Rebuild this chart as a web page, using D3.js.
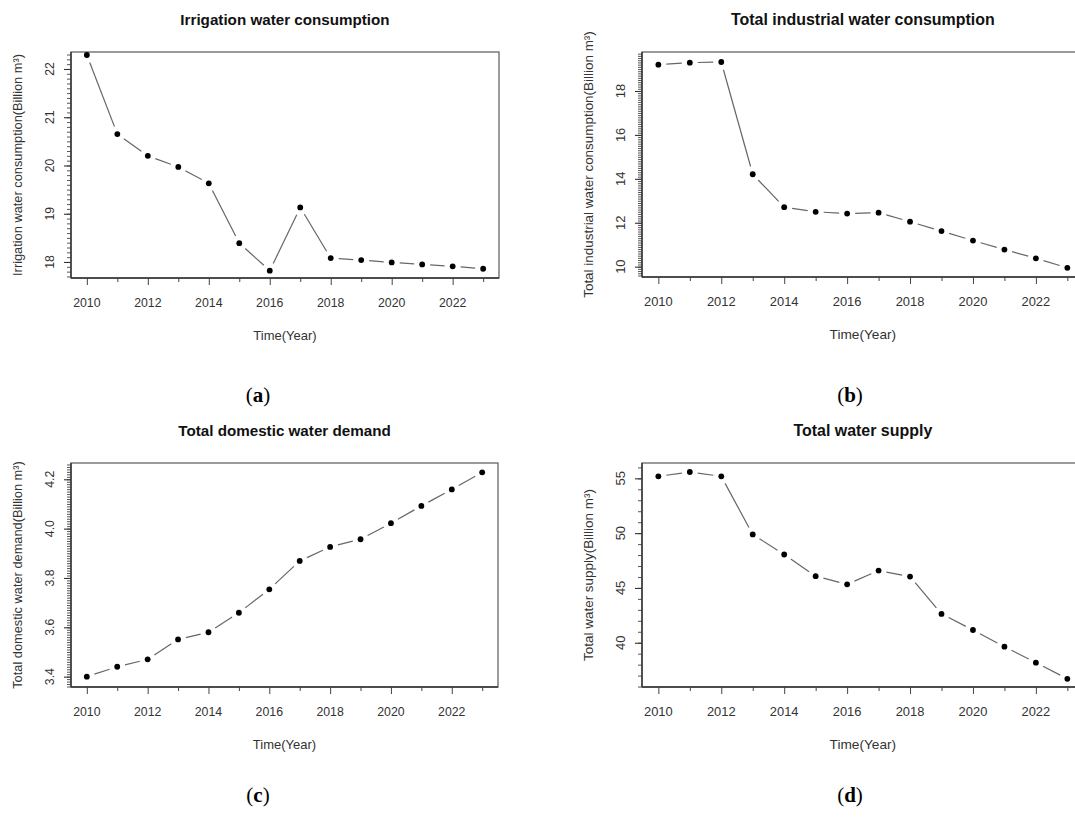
<!DOCTYPE html>
<html>
<head>
<meta charset="utf-8">
<script src="https://cdn.jsdelivr.net/npm/d3@7"></script>
<style>
  html, body { margin: 0; padding: 0; background: #fff; }
  svg { display: block; }
</style>
</head>
<body>
<svg id="chart" width="1075" height="817"></svg>
<script>
// ---------------- DATA ----------------
const years = [2010, 2011, 2012, 2013, 2014, 2015, 2016, 2017, 2018, 2019, 2020, 2021, 2022, 2023];
const xTickLabels = [2010, 2012, 2014, 2016, 2018, 2020, 2022];

const irrigation = [22.29, 20.65, 20.20, 19.97, 19.63, 18.39, 17.82, 19.13, 18.08, 18.04, 17.99, 17.95, 17.91, 17.86];
const industrial = [19.20, 19.29, 19.32, 14.21, 12.71, 12.50, 12.42, 12.46, 12.05, 11.62, 11.19, 10.78, 10.38, 9.95];
const domestic   = [3.400, 3.440, 3.470, 3.551, 3.580, 3.659, 3.754, 3.869, 3.926, 3.957, 4.022, 4.092, 4.159, 4.228];
const supply     = [55.18, 55.58, 55.18, 49.88, 48.05, 46.07, 45.33, 46.58, 46.04, 42.63, 41.16, 39.64, 38.18, 36.71];

const titles = ["Irrigation water consumption", "Total industrial water consumption", "Total domestic water demand", "Total water supply"];
const yTitles = ["Irrigation water consumption(Billion m\u00B3)", "Total industrial water consumption(Billion m\u00B3)",
                 "Total domestic water demand(Billion m\u00B3)", "Total water supply(Billion m\u00B3)"];
const xTitle = "Time(Year)";
const panelLetters = ["a", "b", "c", "d"];

const yMajorTicks = [[18, 19, 20, 21, 22], [10, 12, 14, 16, 18], [3.4, 3.6, 3.8, 4.0, 4.2], [40, 45, 50, 55]];
const yMinorStep = [0.1, 0.1, 0.01, 1];
const yDomains = [[17.668, 22.352], [9.53, 19.776], [3.358, 4.266], [35.96, 56.40]];
const xDomain = [2009.48, 2023.52];

// ---------------- LAYOUT ----------------
const series = [irrigation, industrial, domestic, supply];
const boxes = [
  { left: 71,  right: 499,    top: 52,  bottom: 278, s: 1.0 },
  { left: 642, right: 1083.7, top: 52,  bottom: 277, s: 1.05 },
  { left: 71,  right: 498,    top: 463, bottom: 687, s: 1.0 },
  { left: 642, right: 1083.7, top: 463, bottom: 687, s: 1.05 }
];
const letterPos = [[258, 402], [850, 402], [258, 802], [850, 802]];

const svg = d3.select("#chart");
const FONT = "'Liberation Sans', Arial, Helvetica, sans-serif";

series.forEach((vals, i) => {
  const b = boxes[i];
  const s = b.s;
  const x = d3.scaleLinear().domain(xDomain).range([b.left, b.right]);
  const y = d3.scaleLinear().domain(yDomains[i]).range([b.bottom, b.top]);
  const g = svg.append("g");

  // X axis (ticks every year, labels on even years)
  const xAxis = d3.axisBottom(x).tickValues(years).tickSize(4).tickSizeOuter(0).tickFormat("");
  const gx = g.append("g").attr("transform", `translate(0,${b.bottom})`).call(xAxis);
  gx.select(".domain").remove();
  gx.selectAll(".tick line").attr("stroke", "#444").attr("stroke-width", 1)
    .attr("y2", d => (d % 2 === 0 ? 7 : 4));
  g.selectAll(".xlab").data(xTickLabels).enter().append("text")
    .attr("x", d => x(d)).attr("y", b.bottom + 29)
    .attr("text-anchor", "middle").attr("font-family", FONT).attr("font-size", 12.3 * s).attr("fill", "#333")
    .text(d => d);

  // Y axis minor ticks
  const [y0, y1] = yDomains[i];
  const step = yMinorStep[i];
  const minor = d3.range(Math.ceil(y0 / step - 1e-9), Math.floor(y1 / step + 1e-9) + 1).map(k => +(k * step).toFixed(4));
  const yMinorAxis = d3.axisLeft(y).tickValues(minor).tickSize(4).tickSizeOuter(0).tickFormat("");
  const gym = g.append("g").attr("transform", `translate(${b.left},0)`).call(yMinorAxis);
  gym.select(".domain").remove();
  gym.selectAll(".tick line").attr("stroke", "#444").attr("stroke-width", 0.9);

  // Y axis major ticks
  const yAxis = d3.axisLeft(y).tickValues(yMajorTicks[i]).tickSize(7).tickSizeOuter(0).tickFormat("");
  const gy = g.append("g").attr("transform", `translate(${b.left},0)`).call(yAxis);
  gy.select(".domain").remove();
  gy.selectAll(".tick line").attr("stroke", "#333").attr("stroke-width", 1.1);
  const fmt = i === 2 ? d3.format(".1f") : d3.format("d");
  g.selectAll(".ylab").data(yMajorTicks[i]).enter().append("text")
    .attr("transform", d => `translate(${b.left - 17},${y(d)}) rotate(-90)`)
    .attr("text-anchor", "middle").attr("font-family", FONT).attr("font-size", 12.3 * s).attr("fill", "#333")
    .text(d => fmt(d));

  // Box
  g.append("rect").attr("x", b.left).attr("y", b.top)
    .attr("width", b.right - b.left).attr("height", b.bottom - b.top)
    .attr("fill", "none").attr("stroke", "#666").attr("stroke-width", 1.3);
  g.append("line").attr("x1", b.left).attr("x2", b.right)
    .attr("y1", b.bottom).attr("y2", b.bottom).attr("stroke", "#333").attr("stroke-width", 1.4);
  g.append("line").attr("x1", b.left).attr("x2", b.left)
    .attr("y1", b.top).attr("y2", b.bottom).attr("stroke", "#333").attr("stroke-width", 1.4);

  // Lines (type "b": segments with gaps around points)
  const gap = 8;
  const pts = years.map((yr, k) => [x(yr), y(vals[k])]);
  for (let k = 0; k < pts.length - 1; k++) {
    const [ax, ay] = pts[k], [bx, by] = pts[k + 1];
    const dx = bx - ax, dy = by - ay, len = Math.hypot(dx, dy);
    if (len <= 2 * gap) continue;
    const ux = dx / len, uy = dy / len;
    g.append("line")
      .attr("x1", ax + ux * gap).attr("y1", ay + uy * gap)
      .attr("x2", bx - ux * gap).attr("y2", by - uy * gap)
      .attr("stroke", "#666").attr("stroke-width", 1.2);
  }
  g.selectAll(".pt").data(years).enter().append("circle")
    .attr("cx", d => x(d)).attr("cy", (d, k) => y(vals[k])).attr("r", 2.9).attr("fill", "#000");

  // Titles
  g.append("text").attr("x", (b.left + b.right) / 2).attr("y", b.top - 27)
    .attr("text-anchor", "middle").attr("font-family", FONT).attr("font-size", 15.2 * s)
    .attr("font-weight", "bold").attr("fill", "#111").text(titles[i]);
  g.append("text").attr("x", (b.left + b.right) / 2).attr("y", b.bottom + 62)
    .attr("text-anchor", "middle").attr("font-family", FONT).attr("font-size", 13 * s).attr("fill", "#333")
    .text(xTitle);
  g.append("text")
    .attr("transform", `translate(${b.left - 49},${(b.top + b.bottom) / 2}) rotate(-90)`)
    .attr("text-anchor", "middle").attr("font-family", FONT).attr("font-size", 12.8 * s).attr("fill", "#333")
    .text(yTitles[i]);

  // Panel letter
  const lt = svg.append("text").attr("x", letterPos[i][0]).attr("y", letterPos[i][1])
    .attr("text-anchor", "middle").attr("font-family", "'Liberation Serif', 'Times New Roman', serif")
    .attr("font-size", 21).attr("fill", "#000");
  lt.append("tspan").text("(");
  lt.append("tspan").attr("font-weight", "bold").text(panelLetters[i]);
  lt.append("tspan").text(")");
});
</script>
</body>
</html>
